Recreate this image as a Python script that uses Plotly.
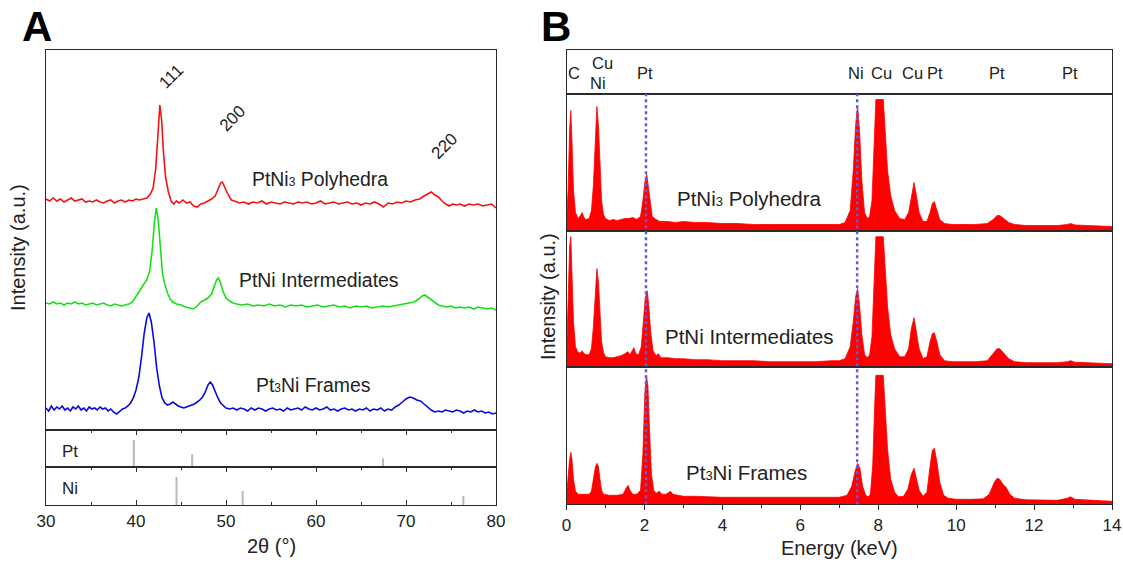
import plotly.graph_objects as go

W, H = 1123, 565
FONT = "Liberation Sans, Arial, sans-serif"
INK = "#222222"

# ---------------- Panel A : XRD (2theta, intensity a.u., stacked) ----------------
red_tt = [30.0,30.4,30.8,31.2,31.6,32.0,32.4,32.8,33.2,33.6,34.0,34.4,34.8,35.2,35.6,36.0,36.4,36.8,37.2,37.6,
          38.0,38.4,38.8,39.2,39.6,40.0,40.4,40.8,41.2,41.6,41.9,42.2,42.45,42.65,42.85,43.05,43.3,43.6,43.9,44.2,
          44.5,44.8,45.2,45.6,46.0,46.4,46.8,47.2,47.6,48.0,48.4,48.8,49.1,49.4,49.6,49.9,50.2,50.6,51.0,51.5,
          52.0,52.5,53.0,53.5,54.0,54.5,55.0,55.5,56.0,56.5,57.0,57.5,58.0,58.5,59.0,59.5,60.0,60.5,61.0,61.5,
          62.0,62.5,63.0,63.5,64.0,64.5,65.0,65.5,66.0,66.5,67.0,67.5,68.0,68.5,69.0,69.5,70.0,70.5,71.0,71.5,
          72.0,72.4,72.8,73.2,73.6,74.0,74.4,74.8,75.2,75.6,76.0,76.5,77.0,77.5,78.0,78.5,79.0,79.5,80.0]
red_int = [231,229,232,229,231,228,230,232,229,230,231,228,229,228,230,228,227,229,230,227,
           229,230,228,230,229,231,230,231,232,236,242,262,298,325,310,278,252,238,229,226,
           229,227,230,227,228,224,223,226,227,229,231,234,240,247,248,242,236,230,229,227,
           228,226,228,227,229,226,228,227,226,228,227,226,228,227,228,226,227,229,226,227,
           228,226,227,228,226,227,225,227,226,228,226,223,227,226,228,227,229,228,230,231,
           234,236,238,235,233,229,226,224,226,225,226,224,226,225,226,224,225,226,222]

green_tt = [30.0,30.4,30.8,31.2,31.6,32.0,32.4,32.8,33.2,33.6,34.0,34.4,34.8,35.2,35.6,36.0,36.4,36.8,37.2,37.6,
            38.0,38.4,38.8,39.2,39.6,40.0,40.4,40.8,41.2,41.5,41.8,42.05,42.25,42.45,42.7,42.95,43.2,43.5,43.8,44.1,
            44.5,45.0,45.5,46.0,46.4,46.8,47.2,47.6,48.0,48.4,48.7,48.95,49.15,49.4,49.7,50.0,50.4,50.8,51.2,51.8,
            52.4,53.0,53.6,54.2,54.8,55.4,56.0,56.6,57.2,57.8,58.4,59.0,59.6,60.2,60.8,61.4,62.0,62.6,63.2,63.8,
            64.4,65.0,65.6,66.2,66.8,67.4,68.0,68.6,69.2,69.8,70.4,70.9,71.4,71.8,72.1,72.4,72.8,73.2,73.6,74.0,
            74.5,75.0,75.5,76.0,76.5,77.0,77.5,78.0,78.5,79.0,79.5,80.0]
green_int = [127,126,128,126,127,125,127,126,128,126,127,125,126,127,125,126,127,125,124,126,
             125,124,125,126,128,133,139,145,150,158,180,208,222,212,180,156,146,137,131,128,
             126,125,123,122,121,124,128,130,132,136,143,150,152,147,138,132,129,127,126,125,
             126,124,125,124,126,124,125,123,125,124,125,123,124,125,123,124,125,123,124,122,
             124,123,124,122,123,124,123,124,125,126,127,128,131,134,135,133,130,127,125,124,
             123,124,122,123,122,123,121,123,122,121,122,120]

blue_tt = [30.0,30.3,30.6,30.9,31.2,31.5,31.8,32.1,32.4,32.7,33.0,33.3,33.6,33.9,34.2,34.5,34.8,35.1,35.4,35.7,
           36.0,36.3,36.6,36.9,37.2,37.5,37.85,38.2,38.5,38.8,39.1,39.4,39.7,40.0,40.3,40.6,40.9,41.2,41.45,41.7,
           42.0,42.3,42.6,42.9,43.2,43.5,43.8,44.1,44.4,44.7,45.0,45.3,45.6,45.9,46.2,46.5,46.8,47.1,47.4,47.7,
           48.0,48.25,48.5,48.8,49.1,49.4,49.7,50.0,50.4,50.8,51.2,51.6,52.0,52.4,52.8,53.2,53.6,54.0,54.4,54.8,
           55.2,55.6,56.0,56.4,56.8,57.2,57.6,58.0,58.4,58.8,59.2,59.6,60.0,60.4,60.8,61.2,61.6,62.0,62.4,62.8,
           63.2,63.6,64.0,64.4,64.8,65.2,65.6,66.0,66.4,66.8,67.2,67.6,68.0,68.4,68.8,69.2,69.6,70.0,70.4,70.8,
           71.2,71.6,72.0,72.4,72.8,73.2,73.6,74.0,74.4,74.8,75.2,75.6,76.0,76.4,76.8,77.2,77.6,78.0,78.4,78.8,
           79.2,79.6,80.0]
blue_int = [22,19,24,20,23,21,24,20,22,19,23,21,24,20,22,19,23,21,22,20,
            23,21,22,19,21,18,16,19,21,22,24,27,32,40,52,72,96,112,117,108,
            88,62,44,32,27,25,26,28,26,24,23,22,23,24,25,26,28,30,33,38,
            45,48,45,38,32,27,24,22,21,22,20,22,21,19,22,20,22,21,19,21,
            22,20,21,19,22,20,21,22,20,23,21,20,22,20,21,23,20,21,19,21,
            22,20,21,19,21,20,22,19,21,20,22,19,21,20,23,25,28,31,33,32,
            30,29,26,23,20,18,19,18,20,19,18,20,19,17,19,18,20,18,19,17,
            18,16,17]

# reference patterns (relative intensity)
pt_ref_tt = [39.76, 46.24, 67.45]
pt_ref_int = [100, 47, 32]
ni_ref_tt = [44.50, 51.85, 76.37]
ni_ref_int = [100, 50, 32]

hkl_labels = ["111", "200", "220"]
SUB = "<span style='font-size:12px'>3</span>"
xrd_names = ["PtNi" + SUB + " Polyhedra", "PtNi Intermediates", "Pt" + SUB + "Ni Frames"]

# ---------------- Panel B : EDS (energy keV, counts a.u.) ----------------
eds1_e = [0.00,0.04,0.08,0.11,0.14,0.18,0.23,0.30,0.36,0.40,0.45,0.50,0.58,0.64,0.69,0.74,0.78,0.82,0.86,0.90,
          0.95,1.00,1.10,1.20,1.30,1.40,1.50,1.60,1.70,1.80,1.90,1.96,2.01,2.06,2.10,2.15,2.20,2.30,2.40,2.60,
          2.80,3.00,3.30,3.60,4.00,4.40,4.80,5.20,5.60,6.00,6.40,6.80,7.00,7.15,7.28,7.36,7.42,7.47,7.52,7.58,
          7.65,7.72,7.78,7.84,7.90,7.94,8.13,8.18,8.24,8.32,8.42,8.55,8.68,8.78,8.85,8.92,8.98,9.05,9.15,9.25,
          9.33,9.39,9.44,9.50,9.58,9.70,9.90,10.2,10.5,10.8,10.95,11.05,11.12,11.22,11.35,11.5,11.8,12.2,12.6,12.85,
          12.94,13.05,13.4,13.8,14.0]
eds1_i = [8,40,100,120,90,40,18,12,15,18,13,11,12,20,45,90,124,105,60,30,
          16,12,10,11,10,11,12,12,13,11,14,30,48,56,45,28,14,11,9,9,
          8,9,8,8,7,7,6,6,6,6,6,6,6,8,20,60,105,124,100,50,
          18,12,14,30,90,131,131,100,60,35,20,12,11,18,35,48,35,18,9,9,
          18,27,29,22,11,7,6,6,6,7,11,15,15,12,8,6,5,5,5,6,
          7,5.5,5,5,4]

eds2_e = [0.00,0.04,0.08,0.11,0.14,0.18,0.23,0.30,0.36,0.40,0.45,0.50,0.58,0.64,0.69,0.74,0.78,0.82,0.86,0.90,
          0.95,1.00,1.10,1.20,1.30,1.40,1.50,1.57,1.63,1.70,1.73,1.78,1.85,1.92,1.97,2.02,2.07,2.11,2.16,2.22,
          2.30,2.36,2.42,2.60,2.80,3.00,3.30,3.60,4.00,4.40,4.80,5.20,5.60,6.00,6.40,6.80,7.00,7.15,7.28,7.36,
          7.42,7.47,7.52,7.58,7.65,7.72,7.78,7.84,7.90,7.94,8.13,8.18,8.24,8.32,8.42,8.55,8.68,8.78,8.85,8.92,
          8.98,9.05,9.15,9.25,9.33,9.39,9.44,9.50,9.58,9.70,9.90,10.2,10.5,10.8,10.95,11.05,11.12,11.22,11.35,11.5,
          11.8,12.2,12.6,12.85,12.94,13.05,13.4,13.8,14.0]
eds2_i = [8,60,120,130,100,45,20,14,14,16,13,12,12,18,40,75,98,85,50,25,
          14,10,9,9,10,11,13,15,12,16,19,13,12,20,45,68,76,62,35,16,
          11,13,9,9,8,8,7,7,6,6,6,5,5,5,5,6,6,8,20,45,
          70,78,62,32,12,9,12,30,90,130,130,100,60,32,18,10,10,18,38,49,
          36,18,8,10,25,33,34,26,12,6,5,5,5,6,13,18,18,14,8,5,
          4,4,4,5,6,4.5,4,3.5,3]

eds3_e = [0.00,0.04,0.08,0.11,0.14,0.18,0.23,0.30,0.40,0.50,0.58,0.64,0.69,0.74,0.78,0.82,0.86,0.90,0.95,1.10,
          1.30,1.45,1.53,1.58,1.63,1.70,1.80,1.90,1.96,2.01,2.05,2.09,2.13,2.18,2.24,2.30,2.38,2.45,2.55,2.62,
          2.67,2.73,2.85,3.00,3.30,3.60,4.00,4.40,4.80,5.20,5.60,6.00,6.40,6.80,7.00,7.20,7.32,7.40,7.47,7.53,
          7.60,7.68,7.74,7.80,7.86,7.91,7.94,8.13,8.18,8.24,8.32,8.42,8.52,8.65,8.76,8.85,8.92,8.98,9.05,9.15,
          9.25,9.33,9.39,9.44,9.50,9.58,9.68,9.80,10.0,10.4,10.7,10.85,10.98,11.05,11.12,11.2,11.28,11.38,11.5,11.8,
          12.2,12.6,12.85,12.94,13.05,13.4,13.8,14.0]
eds3_i = [8,30,45,52,45,25,13,10,10,10,10,13,25,37,41,38,25,14,10,9,
          9,10,16,19,14,10,10,14,50,110,129,118,75,30,14,11,13,10,10,12,
          13,10,9,8,8,7.5,7,7,7,6.5,6.5,6.5,6.5,6.5,7,9,18,32,41,36,
          18,9,7.5,10,40,100,129,129,100,55,25,12,7.5,8,15,30,36,27,14,8,
          12,38,54,56,44,22,9,6,5,5,5.5,10,22,26,25,20,17,10,6,4.5,
          4,4,6,7.5,5,4,3.5,3]

SUBB = "<span style='font-size:13px'>3</span>"
eds_names = ["PtNi" + SUBB + " Polyhedra", "PtNi Intermediates", "Pt" + SUBB + "Ni Frames"]
line_energy = [0.18, 0.93, 0.81, 2.02, 7.44, 8.08, 8.88, 9.47, 11.06, 12.93]
line_label = ["C", "Cu", "Ni", "Pt", "Ni", "Cu", "Cu", "Pt", "Pt", "Pt"]
line_row_px = [73, 63, 83, 73, 73, 73, 73, 73, 73, 73]
marker_lines_keV = [2.04, 7.46]

# ---------------- geometry (pixels) ----------------
def px(x):
    return x / W

def py(y):
    return 1 - y / H

A_x = [px(46), px(496)]
B_x = [px(566.5), px(1112)]

fig = go.Figure()

for tt, inten, col in [(red_tt, red_int, "#f51212"), (green_tt, green_int, "#18e018"), (blue_tt, blue_int, "#0a0ae0")]:
    fig.add_trace(go.Scatter(x=tt, y=inten, mode="lines", line=dict(color=col, width=1.6),
                             xaxis="x", yaxis="y", showlegend=False, hoverinfo="skip"))

def sticks(xs, hs):
    X, Y = [], []
    for a, h in zip(xs, hs):
        X += [a, a, None]
        Y += [0, h, None]
    return X, Y

sx, sy = sticks(pt_ref_tt, pt_ref_int)
fig.add_trace(go.Scatter(x=sx, y=sy, mode="lines", line=dict(color="#b8b8b8", width=2),
                         xaxis="x2", yaxis="y2", showlegend=False, hoverinfo="skip"))
sx, sy = sticks(ni_ref_tt, ni_ref_int)
fig.add_trace(go.Scatter(x=sx, y=sy, mode="lines", line=dict(color="#b8b8b8", width=2),
                         xaxis="x3", yaxis="y3", showlegend=False, hoverinfo="skip"))

fig.add_trace(go.Scatter(x=[None], y=[None], xaxis="x4", yaxis="y4", showlegend=False, hoverinfo="skip"))

for (e, i), k in zip([(eds1_e, eds1_i), (eds2_e, eds2_i), (eds3_e, eds3_i)], [5, 6, 7]):
    fig.add_trace(go.Scatter(x=e, y=i, mode="lines", fill="tozeroy", fillcolor="#ff0000",
                             line=dict(color="#ff0000", width=0.8),
                             xaxis=f"x{k}", yaxis=f"y{k}", showlegend=False, hoverinfo="skip"))

frame = dict(showline=True, linecolor="#2a2a2a", linewidth=1.3, mirror=True,
             showgrid=False, zeroline=False, fixedrange=True)
noticks = dict(ticks="", showticklabels=False)
tickfont = dict(family=FONT, size=17, color=INK)

layout = dict(
    width=W, height=H, margin=dict(l=0, r=0, t=0, b=0, autoexpand=False),
    paper_bgcolor="white", plot_bgcolor="white",
    font=dict(family=FONT, size=17, color=INK),
    xaxis=dict(domain=A_x, anchor="y", range=[30, 80], **frame, **noticks),
    yaxis=dict(domain=[py(430), py(50)], anchor="x", range=[0, 380], **frame, **noticks),
    xaxis2=dict(domain=A_x, anchor="y2", range=[30, 80], side="top", ticks="inside", ticklen=5,
                tickcolor="#2a2a2a", dtick=10, tick0=30, showticklabels=False,
                minor=dict(ticks="inside", ticklen=3, dtick=5, tick0=30, tickcolor="#2a2a2a"), **frame),
    yaxis2=dict(domain=[py(467), py(430)], anchor="x2", range=[0, 137], **frame, **noticks),
    xaxis3=dict(domain=A_x, anchor="y3", range=[30, 80], ticks="inside", ticklen=5,
                tickcolor="#2a2a2a", dtick=10, tick0=30, tickfont=tickfont,
                minor=dict(ticks="inside", ticklen=3, dtick=5, tick0=30, tickcolor="#2a2a2a"),
                **{**frame, "mirror": "ticks"}),
    yaxis3=dict(domain=[py(505), py(467)], anchor="x3", range=[0, 136], **frame, **noticks),
    xaxis4=dict(domain=B_x, anchor="y4", range=[0, 14], **frame, **noticks),
    yaxis4=dict(domain=[py(94), py(50)], anchor="x4", range=[0, 1], **frame, **noticks),
    xaxis5=dict(domain=B_x, anchor="y5", range=[0, 14], **frame, **noticks),
    yaxis5=dict(domain=[py(230.5), py(94)], anchor="x5", range=[0, 136.5], **frame, **noticks),
    xaxis6=dict(domain=B_x, anchor="y6", range=[0, 14], **frame, **noticks),
    yaxis6=dict(domain=[py(366.7), py(230.5)], anchor="x6", range=[0, 136.2], **frame, **noticks),
    xaxis7=dict(domain=B_x, anchor="y7", range=[0, 14], ticks="outside", ticklen=5,
                tickcolor="#2a2a2a", dtick=2, tick0=0, tickfont=tickfont,
                minor=dict(ticks="outside", ticklen=3, dtick=1, tick0=0, tickcolor="#2a2a2a"), **frame),
    yaxis7=dict(domain=[py(504.3), py(366.7)], anchor="x7", range=[0, 137.6], **frame, **noticks),
)
fig.update_layout(**layout)

def A(text, x, y, xref="paper", yref="paper", size=17, angle=0, color=INK):
    return dict(text=text, x=x, y=y, xref=xref, yref=yref, showarrow=False, textangle=angle,
                xanchor="center", yanchor="middle", font=dict(size=size, family=FONT, color=color))

ann = []
ann.append(A("<b>A</b>", px(37), py(27), size=42, color="#000"))
ann.append(A("<b>B</b>", px(556), py(27), size=42, color="#000"))
ann.append(A("Intensity (a.u.)", px(18), py(248), size=20, angle=-90))
ann.append(A("Intensity (a.u.)", px(548), py(297), size=20, angle=-90))
ann.append(A("2θ (°)", px(271), py(546), size=20))
ann.append(A("Energy (keV)", px(839), py(548), size=20))
for t, xx, yy in zip(hkl_labels, [43.9, 50.7, 74.2], [354, 312, 284]):
    ann.append(A(t, xx, yy, xref="x", yref="y", size=17, angle=-45))
for t, xx, yy in zip(xrd_names, [60.4, 60.3, 59.7], [251, 150, 45]):
    ann.append(A(t, xx, yy, xref="x", yref="y", size=19.4))
ann.append(A("Pt", px(70), py(451), size=17))
ann.append(A("Ni", px(70), py(488), size=17))
for t, xx, yy in zip(eds_names, [749, 750, 746], [199, 336, 472]):
    ann.append(A(t, px(xx), py(yy), size=20.5))
for e, t, r in zip(line_energy, line_label, line_row_px):
    ann.append(A(t, e, py(r), xref="x4", yref="paper", size=16.5))
fig.update_layout(annotations=ann)

for e in marker_lines_keV:
    fig.add_shape(type="line", xref="x5", yref="paper", x0=e, x1=e, y0=py(504.3), y1=py(94),
                  line=dict(color="#5b5be8", width=2.5, dash="dot"), layer="above")

fig.write_html("out.html", config={"displayModeBar": False},
               post_script="document.body.style.margin='0';document.body.style.padding='0';"
                           "document.documentElement.style.overflow='hidden';")
